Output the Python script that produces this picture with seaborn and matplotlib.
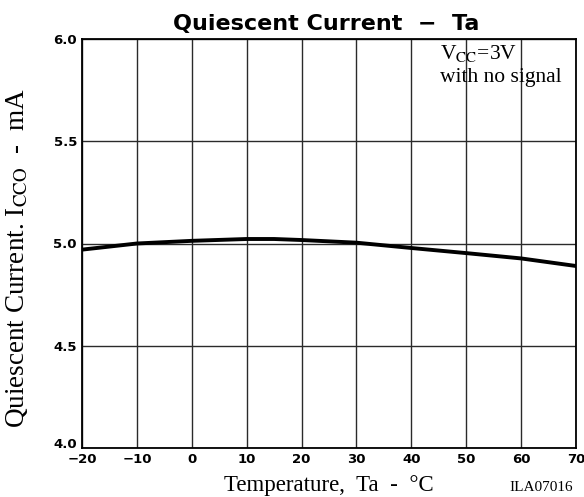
import matplotlib
matplotlib.use("Agg")
import matplotlib.pyplot as plt
import seaborn as sns
import pandas as pd

temperature = [-20, -10, 0, 10, 15, 20, 30, 40, 50, 60, 70]
current = [4.97, 5.00, 5.013, 5.022, 5.022, 5.017, 5.004, 4.978, 4.953, 4.927, 4.89]
x_ticks = [-20, -10, 0, 10, 20, 30, 40, 50, 60, 70]
y_ticks = [4.0, 4.5, 5.0, 5.5, 6.0]

sns.set_theme(style="white")
plt.rcParams['font.family'] = ['DejaVu Sans']
plt.rcParams['mathtext.fontset'] = 'stix'
plt.rcParams['text.color'] = 'black'

W, H = 584, 497
df = pd.DataFrame({"Ta": temperature, "I": current})

fig = plt.figure(figsize=(W / 100, H / 100), dpi=100)
ax = fig.add_axes([82 / W, 1 - 448 / H, 494 / W, 409 / H])

for xt in x_ticks:
    ax.axvline(xt, color="#2a2a2a", lw=1.0, zorder=1)
for yt in y_ticks:
    ax.axhline(yt, color="#2a2a2a", lw=1.0, zorder=1)

sns.lineplot(data=df, x="Ta", y="I", ax=ax, color="black", lw=2.8, zorder=3)

ax.set_xlim(-20, 70)
ax.set_ylim(4.0, 6.0)
ax.set_xticks(x_ticks)
ax.set_xticklabels([str(t).replace("-", "\u2212") for t in x_ticks])
ax.set_yticks(y_ticks)
ax.set_yticklabels([f"{t:.1f}" for t in y_ticks])
ax.tick_params(axis="both", length=0, labelsize=9.5, colors="black")
ax.tick_params(axis="x", pad=3.5)
ax.tick_params(axis="y", pad=3.6)
for lab in ax.get_xticklabels() + ax.get_yticklabels():
    lab.set_fontweight("bold")
    lab.set_color("black")
ax.get_yticklabels()[0].set_verticalalignment("baseline")

for s in ax.spines.values():
    s.set_color("black")
    s.set_linewidth(1.3)

ax.set_xlabel("")
ax.set_ylabel("")

serif = "Liberation Serif"
fig.text(329 / W, 1 - 491 / H, "Temperature,  Ta  -  °C", ha="center", va="baseline",
         fontsize=16.5, fontfamily=serif, color="black")
fig.text(17 / W, 1 - 258 / H, r"Quiescent Current. I$_{\rm CCO}$  -  mA", ha="center",
         va="center", rotation=90, fontsize=19.5, fontfamily=serif, color="black")

fig.text(326 / W, 1 - 30 / H, "Quiescent Current  \u2212  Ta", ha="center", va="baseline",
         fontsize=16, fontweight="bold", fontfamily="DejaVu Sans", color="black")

fig.text(440 / W, 1 - 59 / H, r"V$_{\rm CC}$=3V", ha="left", va="baseline",
         fontsize=15.5, fontfamily=serif, color="black")
fig.text(440 / W, 1 - 82 / H, "with no signal", ha="left", va="baseline",
         fontsize=15.5, fontfamily=serif, color="black")

fig.text(541 / W, 1 - 491 / H, "ILA07016", ha="center", va="baseline", fontsize=11,
         fontfamily=serif, color="black")

fig.savefig("out.png", dpi=100)
